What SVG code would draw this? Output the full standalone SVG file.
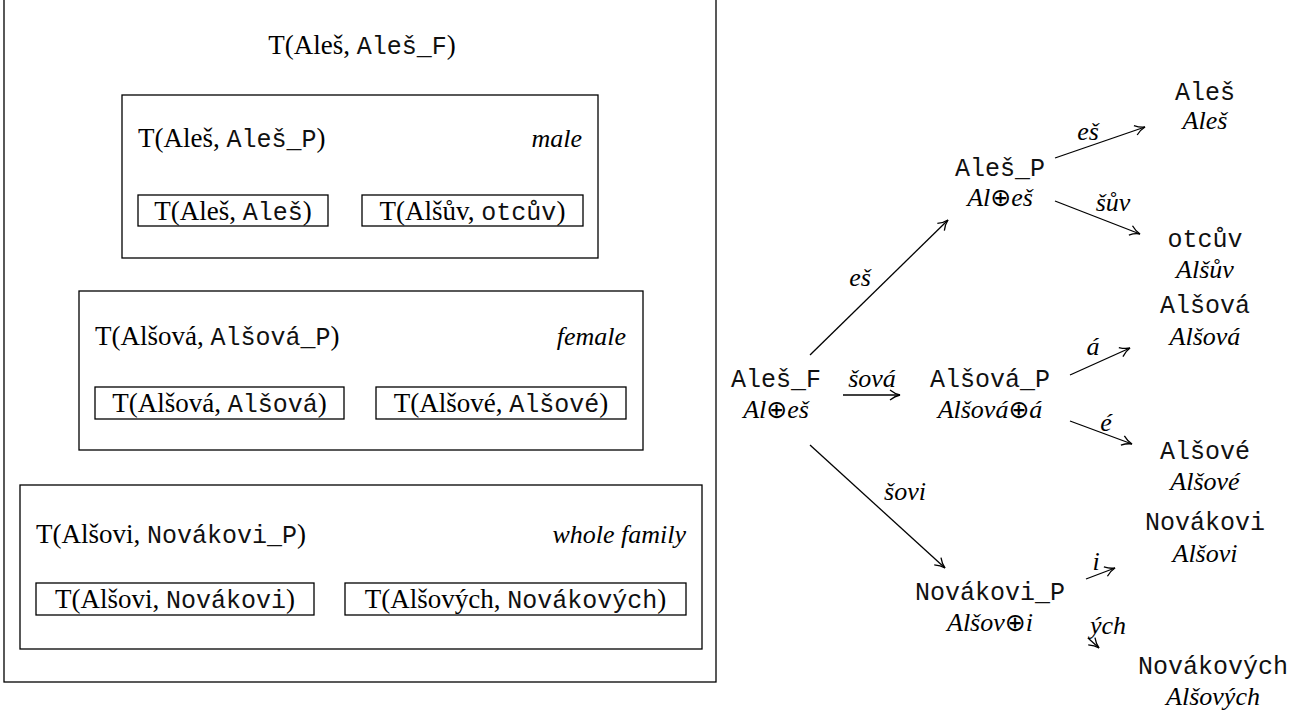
<svg xmlns="http://www.w3.org/2000/svg" width="1304" height="713" viewBox="0 0 1304 713">
<style>
.box{fill:none;stroke:#000;stroke-width:1.3}
.r{font-family:"Liberation Serif",serif;font-size:27px;fill:#000}
.i{font-family:"Liberation Serif",serif;font-size:26px;font-style:italic;fill:#000}
.m{font-family:"Liberation Mono",monospace;font-size:25px;font-style:normal;fill:#111}
.o{font-family:"DejaVu Sans",sans-serif;font-style:normal;font-size:25px}
.e{fill:none;stroke:#000;stroke-width:1.3}
</style>
<defs>
<marker id="ah" viewBox="0 0 12 12" refX="11" refY="6" markerWidth="12" markerHeight="12" markerUnits="userSpaceOnUse" orient="auto">
<path d="M1,1 Q6,5 11,6 Q6,7 1,11" fill="none" stroke="#000" stroke-width="1.3"/>
</marker>
</defs>
<rect width="1304" height="713" fill="#fff"/>
<g id="outer">
<rect class="box" x="4" y="-10" width="712" height="692"/>
<text class="r" x="362" y="54" text-anchor="middle">T(Aleš, <tspan class="m">Aleš_F</tspan>)</text>
</g>
<g id="male">
<rect class="box" x="122" y="95" width="476" height="163"/>
<text class="r" x="138" y="147">T(Aleš, <tspan class="m">Aleš_P</tspan>)</text>
<text class="i" x="582" y="147" text-anchor="end">male</text>
<rect class="box" x="138" y="195" width="190" height="31"/>
<text class="r" x="233" y="220" text-anchor="middle">T(Aleš, <tspan class="m">Aleš</tspan>)</text>
<rect class="box" x="362" y="195" width="221" height="31"/>
<text class="r" x="472.5" y="220" text-anchor="middle">T(Alšův, <tspan class="m">otcův</tspan>)</text>
</g>
<g id="female">
<rect class="box" x="79" y="291" width="564" height="159"/>
<text class="r" x="95" y="345">T(Alšová, <tspan class="m">Alšová_P</tspan>)</text>
<text class="i" x="626" y="345" text-anchor="end">female</text>
<rect class="box" x="95" y="387" width="249" height="32"/>
<text class="r" x="219.5" y="412" text-anchor="middle">T(Alšová, <tspan class="m">Alšová</tspan>)</text>
<rect class="box" x="376" y="387" width="250" height="32"/>
<text class="r" x="501" y="412" text-anchor="middle">T(Alšové, <tspan class="m">Alšové</tspan>)</text>
</g>
<g id="family">
<rect class="box" x="20" y="485" width="682" height="164"/>
<text class="r" x="36" y="543">T(Alšovi, <tspan class="m">Novákovi_P</tspan>)</text>
<text class="i" x="686" y="543" text-anchor="end">whole family</text>
<rect class="box" x="36" y="583" width="278" height="32"/>
<text class="r" x="175" y="608" text-anchor="middle">T(Alšovi, <tspan class="m">Novákovi</tspan>)</text>
<rect class="box" x="345" y="583" width="341" height="32"/>
<text class="r" x="515.5" y="608" text-anchor="middle">T(Alšových, <tspan class="m">Novákových</tspan>)</text>
</g>
<g id="n-alesF">
<text class="m" x="776" y="387" text-anchor="middle">Aleš_F</text>
<text class="i" x="776" y="418" text-anchor="middle">Al<tspan class="o">⊕</tspan>eš</text>
</g>
<g id="n-alesP">
<text class="m" x="1000" y="176" text-anchor="middle">Aleš_P</text>
<text class="i" x="1000" y="206" text-anchor="middle">Al<tspan class="o">⊕</tspan>eš</text>
</g>
<g id="n-alsovaP">
<text class="m" x="990" y="387" text-anchor="middle">Alšová_P</text>
<text class="i" x="990" y="418" text-anchor="middle">Alšová<tspan class="o">⊕</tspan>á</text>
</g>
<g id="n-novakoviP">
<text class="m" x="990" y="600" text-anchor="middle">Novákovi_P</text>
<text class="i" x="990" y="631" text-anchor="middle">Alšov<tspan class="o">⊕</tspan>i</text>
</g>
<g id="n-ales">
<text class="m" x="1205" y="100" text-anchor="middle">Aleš</text>
<text class="i" x="1205" y="129" text-anchor="middle">Aleš</text>
</g>
<g id="n-otcuv">
<text class="m" x="1205" y="247" text-anchor="middle">otcův</text>
<text class="i" x="1205" y="278" text-anchor="middle">Alšův</text>
</g>
<g id="n-alsova">
<text class="m" x="1205" y="313" text-anchor="middle">Alšová</text>
<text class="i" x="1205" y="345" text-anchor="middle">Alšová</text>
</g>
<g id="n-alsove">
<text class="m" x="1205" y="459" text-anchor="middle">Alšové</text>
<text class="i" x="1205" y="490" text-anchor="middle">Alšové</text>
</g>
<g id="n-novakovi">
<text class="m" x="1205" y="530" text-anchor="middle">Novákovi</text>
<text class="i" x="1205" y="562" text-anchor="middle">Alšovi</text>
</g>
<g id="n-novakovych">
<text class="m" x="1213" y="674" text-anchor="middle">Novákových</text>
<text class="i" x="1213" y="705" text-anchor="middle">Alšových</text>
</g>
<g id="connectors">
<line class="e" x1="810" y1="355" x2="948" y2="220" marker-end="url(#ah)"/>
<text class="i" x="860" y="286" text-anchor="middle">eš</text>
<line class="e" x1="843" y1="395" x2="900" y2="395" marker-end="url(#ah)"/>
<text class="i" x="872" y="387" text-anchor="middle">šová</text>
<line class="e" x1="810" y1="445" x2="945" y2="568" marker-end="url(#ah)"/>
<text class="i" x="905" y="500" text-anchor="middle">šovi</text>
<line class="e" x1="1055" y1="158" x2="1145" y2="127" marker-end="url(#ah)"/>
<text class="i" x="1088" y="140" text-anchor="middle">eš</text>
<line class="e" x1="1055" y1="201" x2="1140" y2="234" marker-end="url(#ah)"/>
<text class="i" x="1113" y="211" text-anchor="middle">šův</text>
<line class="e" x1="1070" y1="375" x2="1130" y2="348" marker-end="url(#ah)"/>
<text class="i" x="1093" y="355" text-anchor="middle">á</text>
<line class="e" x1="1070" y1="421" x2="1132" y2="444" marker-end="url(#ah)"/>
<text class="i" x="1106" y="431" text-anchor="middle">é</text>
<line class="e" x1="1086" y1="579" x2="1115" y2="568" marker-end="url(#ah)"/>
<text class="i" x="1096" y="570" text-anchor="middle">i</text>
<line class="e" x1="1088" y1="638" x2="1099" y2="648" marker-end="url(#ah)"/>
<text class="i" x="1108" y="634" text-anchor="middle">ých</text>
</g>
</svg>
